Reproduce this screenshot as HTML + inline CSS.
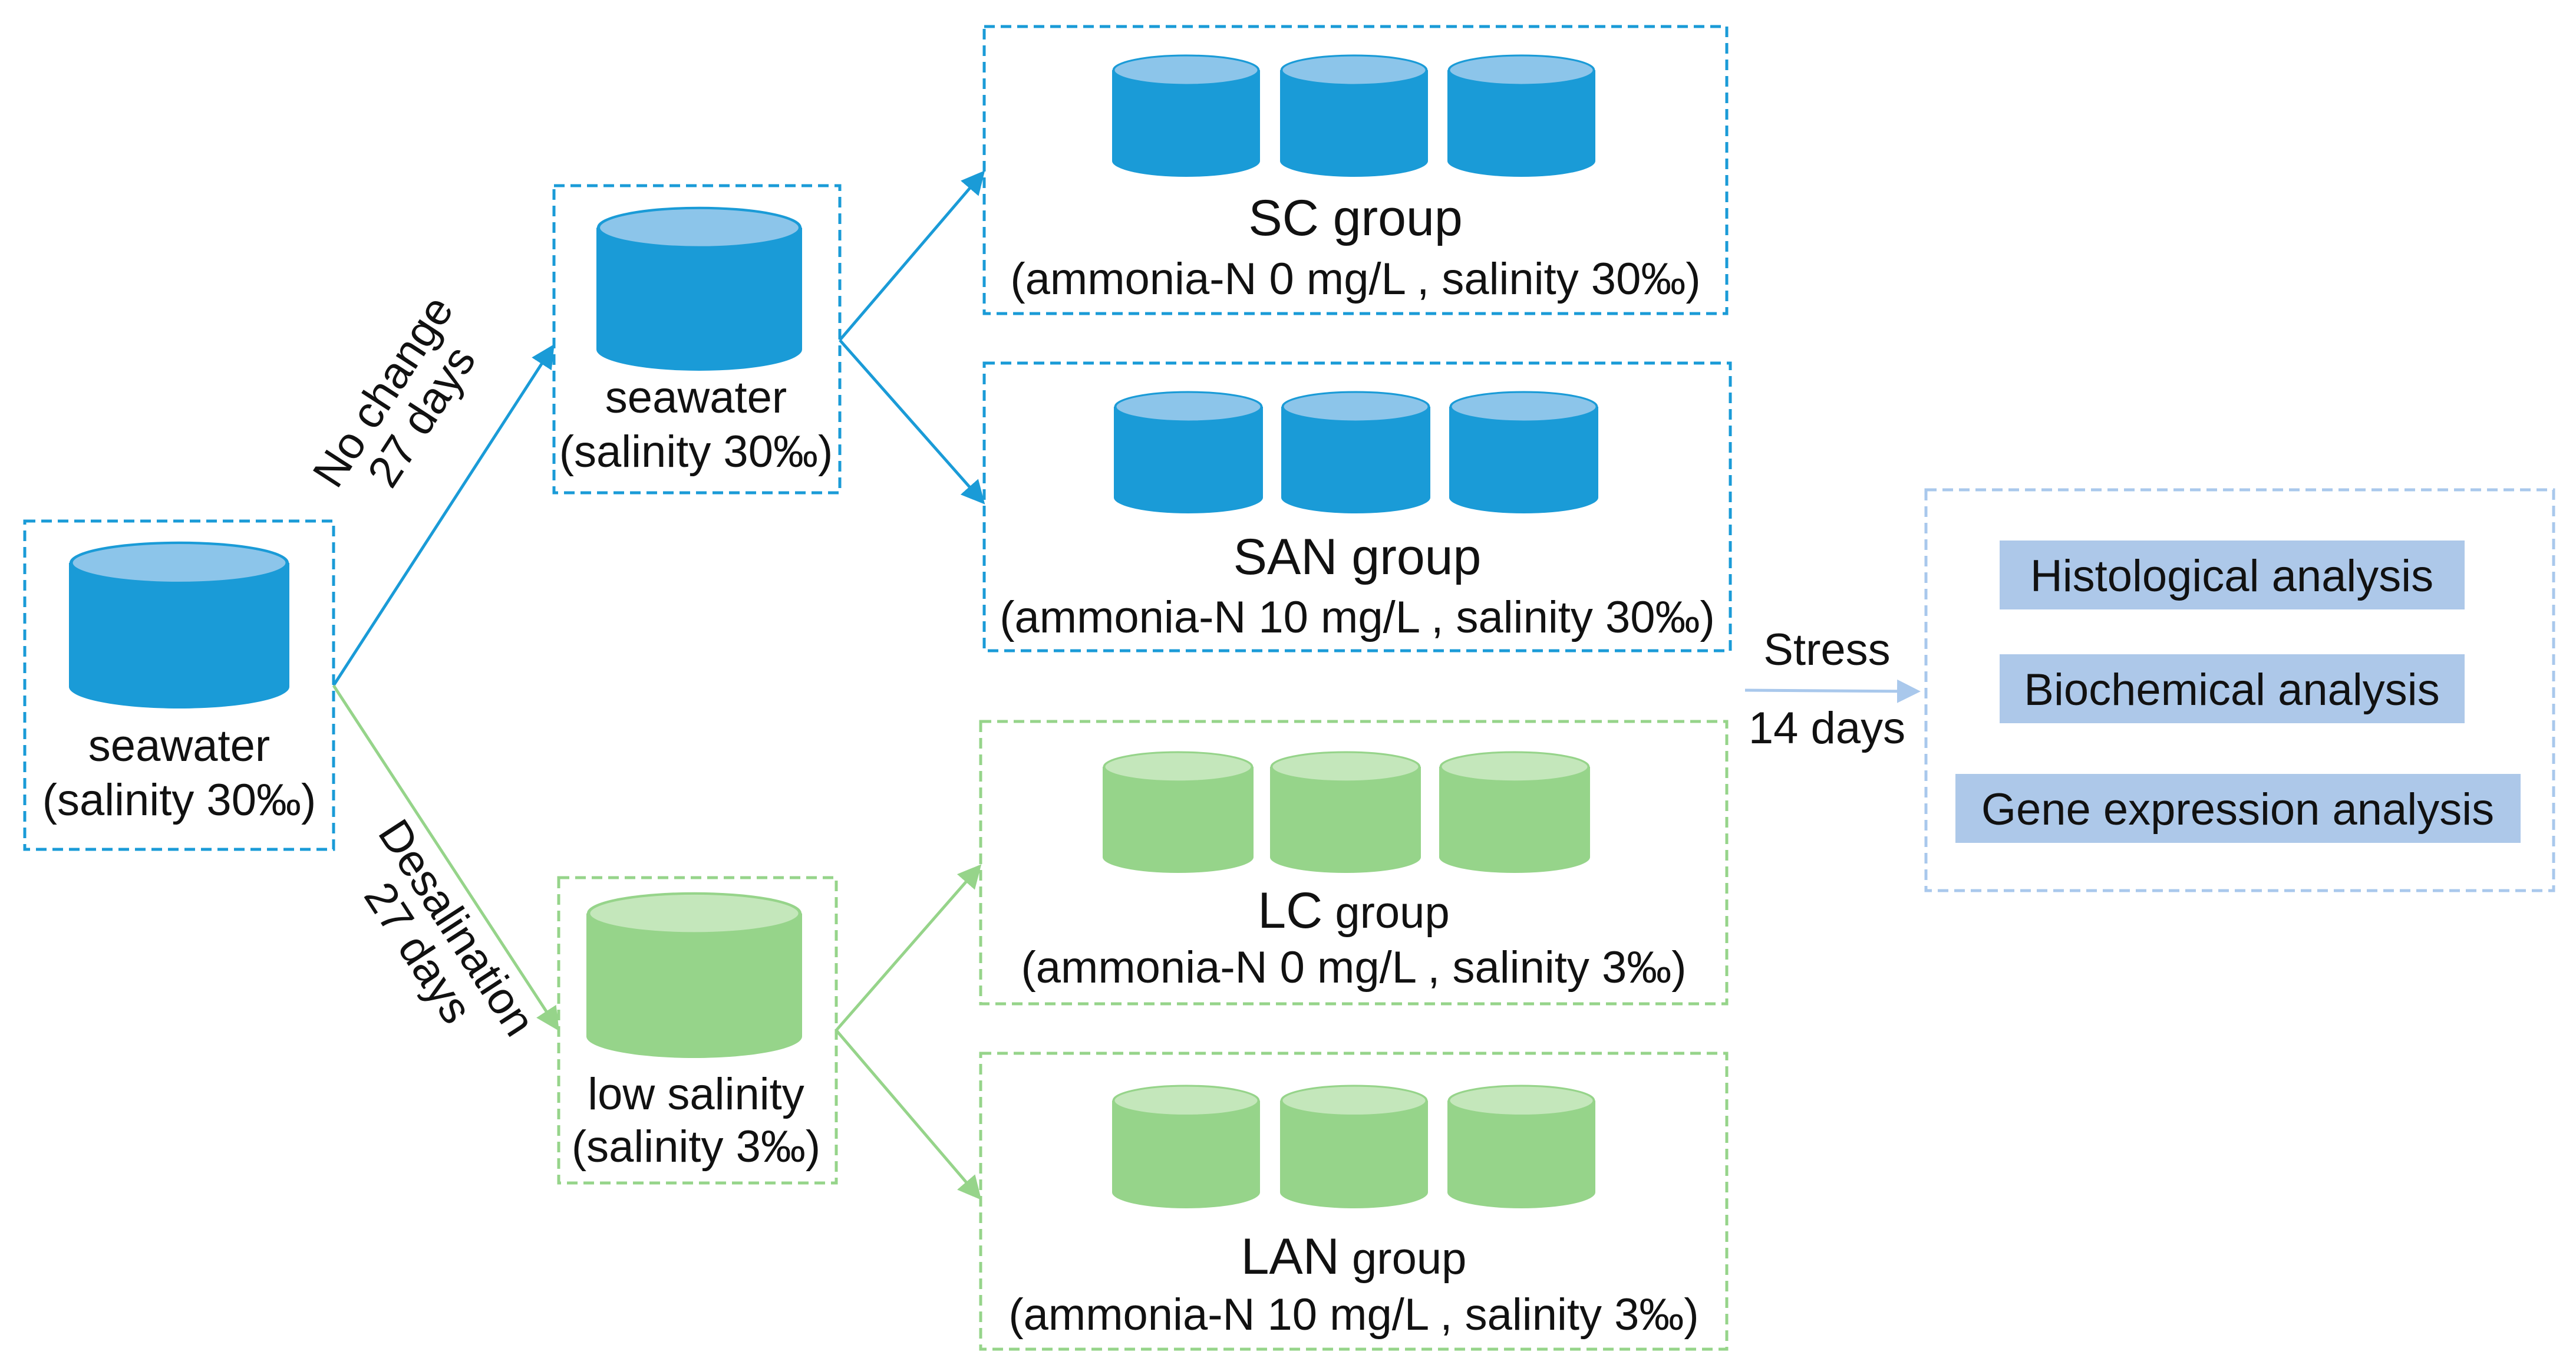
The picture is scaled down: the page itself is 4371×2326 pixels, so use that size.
<!DOCTYPE html>
<html><head><meta charset="utf-8"><style>
html,body{margin:0;padding:0;background:#fff;}
svg{display:block;}
text{font-family:"Liberation Sans",Arial,sans-serif;fill:#111;}
</style></head><body>
<svg width="4371" height="2326" viewBox="0 0 4371 2326" xmlns="http://www.w3.org/2000/svg">
<defs>
<symbol id="cb" viewBox="0 0 100 100" preserveAspectRatio="none">
<path d="M0,13 L0,87 A50,13 0 0 0 100,87 L100,13 Z" fill="#1a9bd7"/>
<ellipse cx="50" cy="13" rx="49" ry="12" fill="#8cc5ea" stroke="#1a9bd7" stroke-width="1.5"/>
</symbol>
<symbol id="cg" viewBox="0 0 100 100" preserveAspectRatio="none">
<path d="M0,13 L0,87 A50,13 0 0 0 100,87 L100,13 Z" fill="#96d48a"/>
<ellipse cx="50" cy="13" rx="49" ry="12" fill="#c4e7bb" stroke="#96d48a" stroke-width="1.5"/>
</symbol>
<marker id="ab" markerWidth="8" markerHeight="8" refX="7" refY="4" orient="auto" markerUnits="strokeWidth"><path d="M0,0 L8,4 L0,8 Z" fill="#1a9bd7"/></marker>
<marker id="ag" markerWidth="8" markerHeight="8" refX="7" refY="4" orient="auto" markerUnits="strokeWidth"><path d="M0,0 L8,4 L0,8 Z" fill="#96d48a"/></marker>
<marker id="al" markerWidth="8" markerHeight="8" refX="7" refY="4" orient="auto" markerUnits="strokeWidth"><path d="M0,0 L8,4 L0,8 Z" fill="#a9c8ec"/></marker>
</defs>

<g fill="none" stroke-width="5" stroke-dasharray="18 10">
<rect x="42" y="884" width="524" height="557" stroke="#1a9bd7"/>
<rect x="940" y="315" width="485" height="521" stroke="#1a9bd7"/>
<rect x="948" y="1489" width="471" height="518" stroke="#96d48a"/>
<rect x="1670" y="45" width="1260" height="487" stroke="#1a9bd7"/>
<rect x="1670" y="616" width="1266" height="488" stroke="#1a9bd7"/>
<rect x="1664" y="1224" width="1266" height="479" stroke="#96d48a"/>
<rect x="1664" y="1787" width="1266" height="502" stroke="#96d48a"/>
<rect x="3268" y="831" width="1065" height="680" stroke="#a9c8ec"/>
</g>

<use href="#cb" x="117" y="918" width="374" height="284"/>
<use href="#cb" x="1012" y="350" width="349" height="279"/>
<use href="#cg" x="995" y="1513" width="366" height="282"/>
<use href="#cb" x="1887" y="92" width="251" height="208"/>
<use href="#cb" x="2172" y="92" width="251" height="208"/>
<use href="#cb" x="2456" y="92" width="251" height="208"/>
<use href="#cb" x="1890" y="663" width="253" height="208"/>
<use href="#cb" x="2174" y="663" width="253" height="208"/>
<use href="#cb" x="2459" y="663" width="253" height="208"/>
<use href="#cg" x="1871" y="1274" width="256" height="207"/>
<use href="#cg" x="2155" y="1274" width="256" height="207"/>
<use href="#cg" x="2442" y="1274" width="256" height="207"/>
<use href="#cg" x="1887" y="1840" width="251" height="210"/>
<use href="#cg" x="2172" y="1840" width="251" height="210"/>
<use href="#cg" x="2456" y="1840" width="251" height="210"/>

<g stroke-width="5" fill="none">
<line x1="566" y1="1163" x2="938" y2="588" stroke="#1a9bd7" marker-end="url(#ab)"/>
<line x1="566" y1="1163" x2="946" y2="1745" stroke="#96d48a" marker-end="url(#ag)"/>
<line x1="1425" y1="577" x2="1668" y2="293" stroke="#1a9bd7" marker-end="url(#ab)"/>
<line x1="1425" y1="577" x2="1668" y2="852" stroke="#1a9bd7" marker-end="url(#ab)"/>
<line x1="1419" y1="1748" x2="1662" y2="1470" stroke="#96d48a" marker-end="url(#ag)"/>
<line x1="1419" y1="1748" x2="1662" y2="2032" stroke="#96d48a" marker-end="url(#ag)"/>
<line x1="2961" y1="1171" x2="3254" y2="1173" stroke="#a9c8ec" marker-end="url(#al)"/>
</g>

<rect x="3393" y="917" width="789" height="117" fill="#adc8e9"/>
<rect x="3393" y="1110" width="789" height="117" fill="#adc8e9"/>
<rect x="3318" y="1313" width="959" height="117" fill="#adc8e9"/>

<g font-size="76" text-anchor="middle">
<text x="304" y="1291">seawater</text>
<text x="304" y="1383">(salinity 30‰)</text>
<text x="1181" y="700">seawater</text>
<text x="1181" y="792">(salinity 30‰)</text>
<text x="1181" y="1882">low salinity</text>
<text x="1181" y="1971">(salinity 3‰)</text>
<text x="2300" y="399" font-size="86">SC group</text>
<text x="2300" y="499">(ammonia-N 0 mg/L , salinity 30‰)</text>
<text x="2303" y="974" font-size="86">SAN group</text>
<text x="2303" y="1073">(ammonia-N 10 mg/L , salinity 30‰)</text>
<text x="2297" y="1574"><tspan font-size="86">LC</tspan> group</text>
<text x="2297" y="1667">(ammonia-N 0 mg/L , salinity 3‰)</text>
<text x="2297" y="2161"><tspan font-size="86">LAN</tspan> group</text>
<text x="2297" y="2256">(ammonia-N 10 mg/L , salinity 3‰)</text>
<text x="3100" y="1128">Stress</text>
<text x="3100" y="1261">14 days</text>
<text x="3787" y="1003">Histological analysis</text>
<text x="3787" y="1196">Biochemical analysis</text>
<text x="3797" y="1399">Gene expression analysis</text>
<g transform="translate(690,690) rotate(-57)">
<text x="0" y="-22">No change</text>
<text x="0" y="56">27 days</text>
</g>
<g transform="translate(735,1600) rotate(57)">
<text x="0" y="-22">Desalination</text>
<text x="0" y="56">27 days</text>
</g>
</g>
</svg>
</body></html>
